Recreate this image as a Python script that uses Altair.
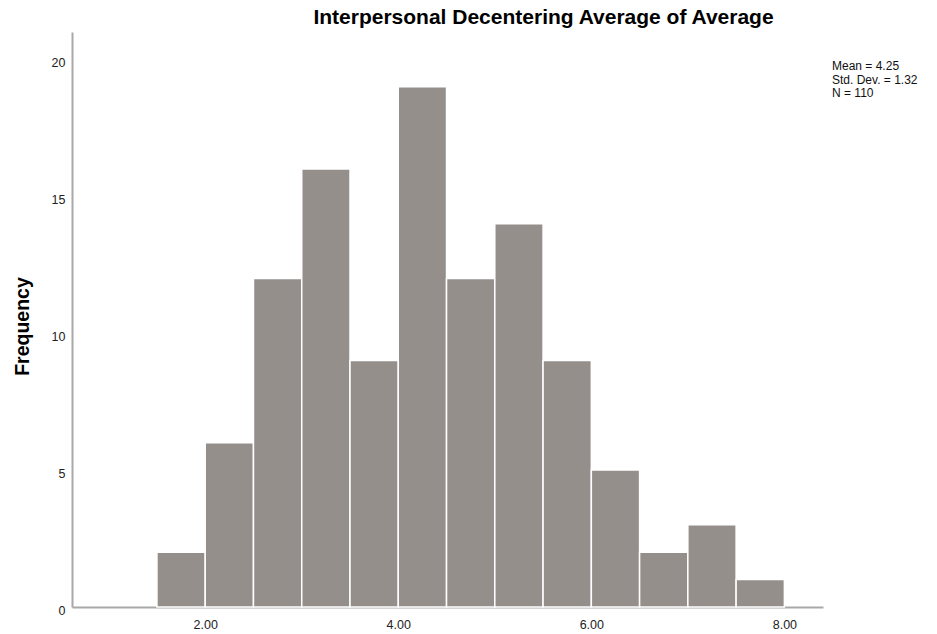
import altair as alt
import pandas as pd

bin_start = [1.5, 2.0, 2.5, 3.0, 3.5, 4.0, 4.5, 5.0, 5.5, 6.0, 6.5, 7.0, 7.5]
bin_end = [2.0, 2.5, 3.0, 3.5, 4.0, 4.5, 5.0, 5.5, 6.0, 6.5, 7.0, 7.5, 8.0]
counts = [2, 6, 12, 16, 9, 19, 12, 14, 9, 5, 2, 3, 1]
x_ticks = [2.0, 4.0, 6.0, 8.0]
y_ticks = [0, 5, 10, 15, 20]
stats_text = ["Mean = 4.25", "Std. Dev. = 1.32", "N = 110"]

df = pd.DataFrame({"start": bin_start, "end": bin_end, "count": counts})

W, H = 751, 575
FONT = "Liberation Sans"

bars = alt.Chart(df).mark_bar(
    color="#958f8c", stroke="white", strokeWidth=1.5
).encode(
    x=alt.X("start:Q",
            scale=alt.Scale(domain=[0.62, 8.4], nice=False, zero=False),
            axis=alt.Axis(values=x_ticks, format=".2f", title=None, ticks=False,
                          grid=False, labelPadding=11, labelFontSize=12.5,
                          labelColor="#222", domainColor="#a8a8a8",
                          domainWidth=2, labelFont=FONT)),
    x2="end:Q",
    y=alt.Y("count:Q",
            scale=alt.Scale(domain=[0, 21.0], nice=False),
            axis=alt.Axis(values=y_ticks, title="Frequency", ticks=False,
                          grid=False, labelPadding=7, labelFontSize=12.5,
                          labelColor="#222", domainColor="#a8a8a8",
                          domainWidth=2, titleFontSize=19.5, titleFont=FONT,
                          titleFontWeight="bold", titlePadding=19,
                          titleColor="#000", labelFont=FONT, labelBaseline="top",
                          labelOffset=-3, titleY=294)),
    y2=alt.datum(0),
)

stats = alt.Chart(pd.DataFrame({"t": ["\n".join(stats_text)]})).mark_text(
    align="left", baseline="top", fontSize=12, font=FONT, color="#111",
    lineBreak="\n", lineHeight=13.5
).encode(
    x=alt.value(760), y=alt.value(29), text="t:N"
)

chart = alt.layer(bars, stats).properties(
    width=W, height=H,
    autosize=alt.AutoSizeParams(type="none"),
    padding={"left": 72, "top": 32, "right": 114, "bottom": 27},
    background="white",
    title=alt.TitleParams(
        "Interpersonal Decentering Average of Average",
        fontSize=21, font=FONT, fontWeight="bold", color="#000",
        anchor="middle", dx=96, offset=4
    ),
).configure_view(strokeWidth=0)

chart.save("out.html", embed_options={"renderer": "svg", "actions": False})
